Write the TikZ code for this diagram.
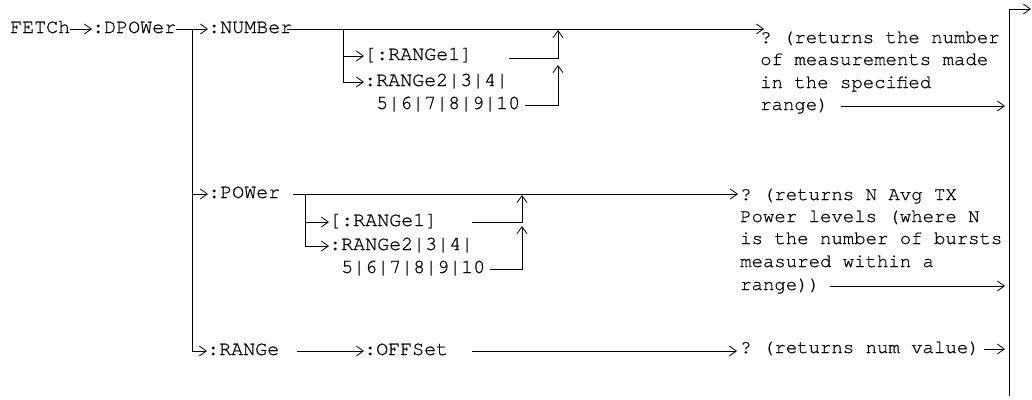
\documentclass[tikz,border=0pt]{standalone}
\usepackage{fontspec}
\setmonofont[FakeBold=0.6]{texgyrecursor-regular.otf}
\usetikzlibrary{arrows.meta}
\begin{document}
\begin{tikzpicture}[x=1pt,y=-1pt,
  txt/.style={inner sep=0pt, anchor=west, text height=8pt, text depth=0pt},
  cmd/.style={txt, font=\ttfamily\fontsize{20}{22}\selectfont},
  cmt/.style={txt, font=\ttfamily\fontsize{19}{22}\selectfont},
  ln/.style={line width=0.8pt},
  arr/.style={ln, -{Straight Barb[length=7pt,width=10pt]}},
]
\useasboundingbox (0,0) rectangle (1032,399);

% ---------- first row ----------
\node[cmd] (fetch) at (10,29) {FETCh};
\node[cmd] (dpower) at (92,29) {:DPOWer};
\coordinate (j1) at (192,29);
\node[cmd] (number) at (208,29) {:NUMBer};
\coordinate (nb) at (343,29);
\coordinate (q1tip) at (764,29);
\coordinate (rb) at (1005,0);

\draw[arr] (fetch.east) -- (dpower.west);
\draw[ln] (dpower.east) -- (j1);
\draw[arr] (j1) -- (number.west);
\draw[arr] ([xshift=-5pt]number.east) -- (q1tip);

\node[cmd] (nr1) at (364,56) {[:RANGe1]};
\node[cmd] (nr2) at (364,82) {:RANGe2|3|4|};
\node[cmd] (nr2b) at (376,105) {5|6|7|8|9|10};
\coordinate (nr1e) at (509,58);
\coordinate (nup) at (558,30);
\coordinate (nup2) at (558,65);

\draw[arr] (nb) |- (nr2.west);
\draw[arr] (nb |- nr1.west) -- (nr1.west);
\draw[arr] (nr1e) -| (nup);
\draw[arr] ([xshift=5pt]nr2b.east) -| (nup2);

\node[cmt] (q1a) at (760,39) {? (returns the number};
\node[cmt] (q1b) at (760,61) {of measurements made};
\node[cmt] (q1c) at (760,84) {in the specified};
\node[cmt] (q1d) at (760,106) {range)};
\draw[arr] ([xshift=12pt]q1d.east) -- (q1d.east -| rb);

% ---------- right bar ----------
\coordinate (barbot) at (1009,396);
\coordinate (bartop) at (1009,9);
\coordinate (barout) at (1031,9);
\draw[arr] (barbot) -- (bartop) -- (barout);

% ---------- POWer row ----------
\node[cmd] (power) at (208,194) {:POWer};
\coordinate (pb) at (305,194);
\coordinate (q2tip) at (738,194);
\draw[arr] (j1 |- power.west) -- (power.west);
\draw[arr] ([xshift=13pt]power.east) -- (q2tip);

\node[cmd] (pr1) at (329,222) {[:RANGe1]};
\node[cmd] (pr2) at (329,246) {:RANGe2|3|4|};
\node[cmd] (pr2b) at (341,269) {5|6|7|8|9|10};
\coordinate (pr1e) at (472,222);
\coordinate (pup) at (522,195);
\coordinate (pup2) at (522,226);
\draw[arr] (pb) |- (pr2.west);
\draw[arr] (pb |- pr1.west) -- (pr1.west);
\draw[arr] (pr1e) -| (pup);
\draw[arr] ([xshift=5pt]pr2b.east) -| (pup2);

\node[cmt] (q2a) at (740,196) {? (returns N Avg TX};
\node[cmt] (q2b) at (740,218) {Power levels (where N};
\node[cmt] (q2c) at (740,240) {is the number of bursts};
\node[cmt] (q2d) at (740,263) {measured within a};
\node[cmt] (q2e) at (740,286) {range))};
\draw[arr] ([xshift=10pt]q2e.east) -- (q2e.east -| rb);

% ---------- RANGe row ----------
\node[cmd] (range) at (207,351) {:RANGe};
\node[cmd] (offset) at (364,351) {:OFFSet};
\coordinate (q3tip) at (737,351);
\draw[arr] (j1) |- (range.west);
\draw[arr] ([xshift=18pt]range.east) -- (offset.west);
\draw[arr] ([xshift=24pt]offset.east) -- (q3tip);
\node[cmt] (q3) at (740,349) {? (returns num value)};
\draw[arr] ([xshift=4pt]q3.east) -- (q3.east -| rb);
\end{tikzpicture}
\end{document}
